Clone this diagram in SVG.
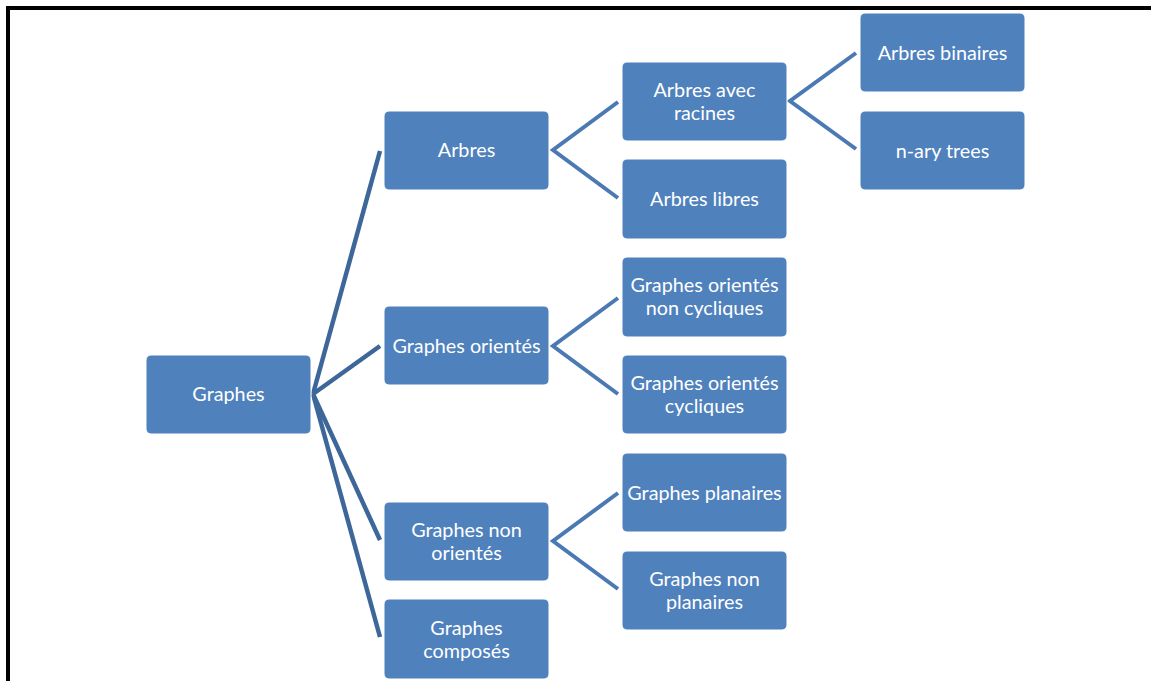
<svg xmlns="http://www.w3.org/2000/svg" width="1151" height="681" viewBox="0 0 1151 681">
  <style>
    .node rect { fill: #4F81BD; stroke: #FFFFFF; stroke-width: 1; }
    .node text { fill: #FFFFFF; font-family: Lato, "Open Sans", "Liberation Sans", sans-serif; font-size: 19.8px; text-anchor: middle; }
    .root-link { stroke: #3D6799; stroke-width: 4.5; fill: none; }
    .link { stroke: #4A79B3; stroke-width: 4; fill: none; stroke-linejoin: miter; }
    .frame { stroke: #000000; stroke-width: 4; fill: none; }
  </style>

  <rect x="0" y="0" width="1151" height="681" fill="#FFFFFF"/>
  <!-- page frame: top and left edges -->
  <path class="frame" d="M8 681 V8 H1151"/>

  <g id="connectors">
    <!-- root to first level -->
    <line class="root-link" x1="313" y1="394" x2="380" y2="151"/>
    <line class="root-link" x1="313" y1="394" x2="380" y2="346"/>
    <line class="root-link" x1="313" y1="394" x2="380" y2="540"/>
    <line class="root-link" x1="313" y1="394" x2="380" y2="637"/>
    <!-- first level to second level -->
    <path class="link" d="M618 102 L553 150 L618 198"/>
    <path class="link" d="M618 298 L553 346 L618 394"/>
    <path class="link" d="M618 493 L553 541 L618 589"/>
    <!-- second level to third level -->
    <path class="link" d="M856 53 L790 101 L856 149"/>
  </g>

  <g id="graphes" class="node">
    <rect x="146" y="355" width="165" height="79" rx="5"/>
    <text x="228.5" y="401">Graphes</text>
  </g>

  <g id="arbres" class="node">
    <rect x="384" y="111" width="165" height="79" rx="5"/>
    <text x="466.5" y="157">Arbres</text>
  </g>
  <g id="graphes-orientes" class="node">
    <rect x="384" y="306" width="165" height="79" rx="5"/>
    <text x="466.5" y="353">Graphes orientés</text>
  </g>
  <g id="graphes-non-orientes" class="node">
    <rect x="384" y="502" width="165" height="79" rx="5"/>
    <text x="466.5" y="537">Graphes non</text>
    <text x="466.5" y="560">orientés</text>
  </g>
  <g id="graphes-composes" class="node">
    <rect x="384" y="599" width="165" height="80" rx="5"/>
    <text x="466.5" y="635">Graphes</text>
    <text x="466.5" y="658">composés</text>
  </g>

  <g id="arbres-avec-racines" class="node">
    <rect x="622" y="62" width="165" height="79" rx="5"/>
    <text x="704.5" y="97">Arbres avec</text>
    <text x="704.5" y="120">racines</text>
  </g>
  <g id="arbres-libres" class="node">
    <rect x="622" y="159" width="165" height="80" rx="5"/>
    <text x="704.5" y="206">Arbres libres</text>
  </g>
  <g id="graphes-orientes-non-cycliques" class="node">
    <rect x="622" y="257" width="165" height="80" rx="5"/>
    <text x="704.5" y="292">Graphes orientés</text>
    <text x="704.5" y="315">non cycliques</text>
  </g>
  <g id="graphes-orientes-cycliques" class="node">
    <rect x="622" y="355" width="165" height="79" rx="5"/>
    <text x="704.5" y="390">Graphes orientés</text>
    <text x="704.5" y="413">cycliques</text>
  </g>
  <g id="graphes-planaires" class="node">
    <rect x="622" y="453" width="165" height="79" rx="5"/>
    <text x="704.5" y="500">Graphes planaires</text>
  </g>
  <g id="graphes-non-planaires" class="node">
    <rect x="622" y="551" width="165" height="79" rx="5"/>
    <text x="704.5" y="586">Graphes non</text>
    <text x="704.5" y="609">planaires</text>
  </g>

  <g id="arbres-binaires" class="node">
    <rect x="860" y="13" width="165" height="79" rx="5"/>
    <text x="942.5" y="60">Arbres binaires</text>
  </g>
  <g id="n-ary-trees" class="node">
    <rect x="860" y="111" width="165" height="79" rx="5"/>
    <text x="942.5" y="158">n-ary trees</text>
  </g>
</svg>
